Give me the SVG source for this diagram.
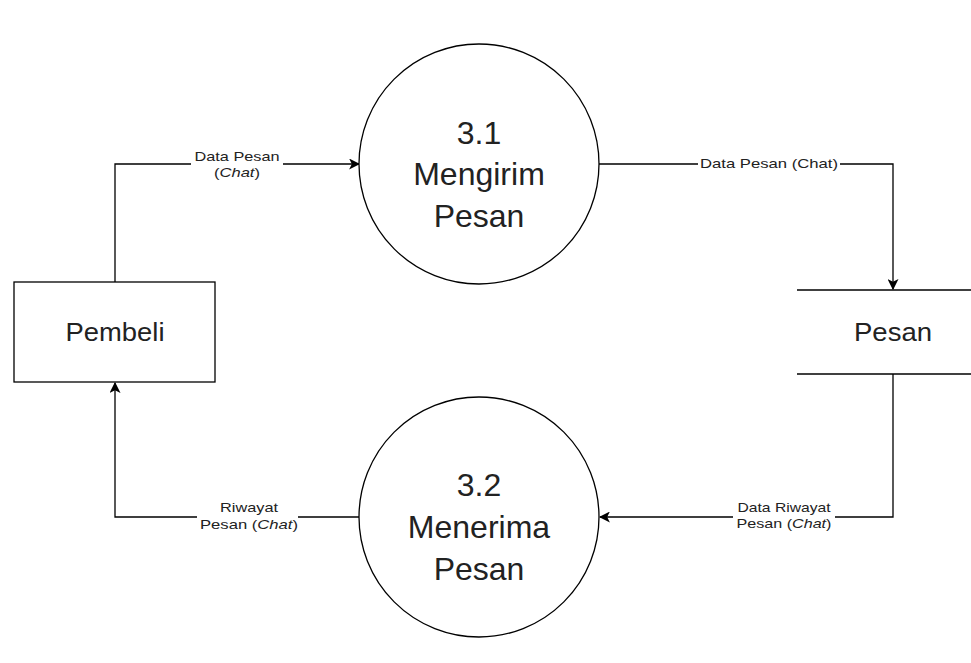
<svg xmlns="http://www.w3.org/2000/svg" width="971" height="663" viewBox="0 0 971 663">
<defs>
<style>
text{font-family:"Liberation Sans",Arial,sans-serif;fill:#222;text-anchor:middle}
.big{font-size:32px}
.mid{font-size:25px}
.sm{font-size:13px}
.ln{fill:none;stroke:#000;stroke-width:1.3}
.bg{fill:#fff}
</style>
<marker id="arr" viewBox="0 0 10 10" refX="9" refY="5" markerWidth="11" markerHeight="11" markerUnits="userSpaceOnUse" orient="auto">
<path d="M0,0 L10,5 L0,10 L2.5,5 Z" fill="#000"/>
</marker>
</defs>
<rect width="971" height="663" fill="#fff"/>
<g id="connectors">
<path class="ln" d="M115,282 V164 H359" marker-end="url(#arr)"/>
<path class="ln" d="M599,164 H893 V289" marker-end="url(#arr)"/>
<path class="ln" d="M893,374 V517 H600" marker-end="url(#arr)"/>
<path class="ln" d="M359,517 H115 V383" marker-end="url(#arr)"/>
<rect class="bg" x="191" y="148" width="92" height="34"/>
<text class="sm" x="237" y="161" textLength="85" lengthAdjust="spacingAndGlyphs">Data Pesan</text>
<text class="sm" x="237" y="177" textLength="46" lengthAdjust="spacingAndGlyphs">(<tspan font-style="italic">Chat</tspan>)</text>
<rect class="bg" x="698" y="156" width="142" height="16"/>
<text class="sm" x="769" y="168" textLength="138" lengthAdjust="spacingAndGlyphs">Data Pesan (Chat)</text>
<rect class="bg" x="197" y="499" width="101" height="34"/>
<text class="sm" x="249" y="512" textLength="58" lengthAdjust="spacingAndGlyphs">Riwayat</text>
<text class="sm" x="249" y="529" textLength="98" lengthAdjust="spacingAndGlyphs">Pesan (<tspan font-style="italic">Chat</tspan>)</text>
<rect class="bg" x="733" y="499" width="102" height="34"/>
<text class="sm" x="784" y="512" textLength="93" lengthAdjust="spacingAndGlyphs">Data Riwayat</text>
<text class="sm" x="784" y="528" textLength="95" lengthAdjust="spacingAndGlyphs">Pesan (<tspan font-style="italic">Chat</tspan>)</text>
</g>
<g id="pembeli">
<rect x="14" y="282" width="201" height="100" fill="#fff" stroke="#000" stroke-width="1.3"/>
<text class="mid" x="115" y="341" textLength="99" lengthAdjust="spacingAndGlyphs">Pembeli</text>
</g>
<g id="p31">
<circle cx="479" cy="164" r="120" fill="#fff" stroke="#000" stroke-width="1.3"/>
<text class="big" x="479" y="144">3.1</text>
<text class="big" x="479" y="185">Mengirim</text>
<text class="big" x="479" y="227">Pesan</text>
</g>
<g id="p32">
<circle cx="479" cy="517" r="120" fill="#fff" stroke="#000" stroke-width="1.3"/>
<text class="big" x="479" y="496">3.2</text>
<text class="big" x="479" y="538">Menerima</text>
<text class="big" x="479" y="580">Pesan</text>
</g>
<g id="pesan">
<line class="ln" x1="797" y1="290" x2="971" y2="290"/>
<line class="ln" x1="797" y1="374" x2="971" y2="374"/>
<text class="mid" x="893" y="341" textLength="78" lengthAdjust="spacingAndGlyphs">Pesan</text>
</g>
</svg>
